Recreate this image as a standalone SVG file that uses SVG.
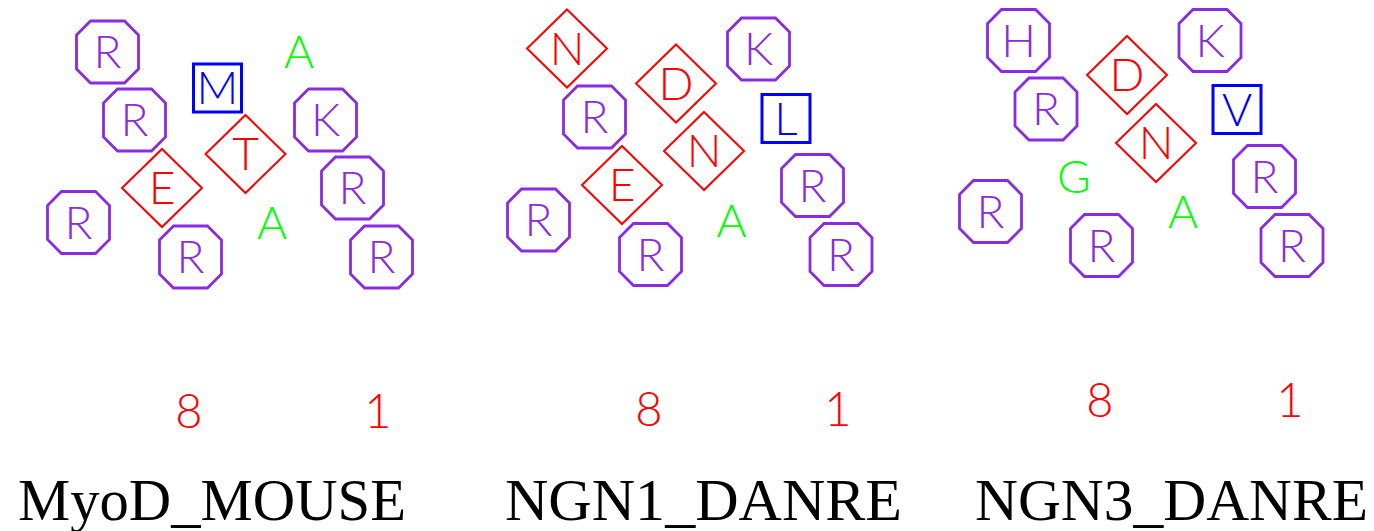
<svg xmlns="http://www.w3.org/2000/svg" xmlns:xlink="http://www.w3.org/1999/xlink" width="1374" height="531" viewBox="0 0 1374 531">
<style>
.oct{fill:none;stroke:#8A2BE2;stroke-width:2.8}
.dia{fill:none;stroke:#FF0000;stroke-width:2}
.sq{fill:none;stroke:#0000FF;stroke-width:3}
.t{font-family:Lato,"DejaVu Sans",sans-serif;font-weight:300;font-size:46px;text-anchor:middle}
.tp{fill:#8A2BE2}
.tr{fill:#FF0000}
.tb{fill:#0000FF}
.tg{fill:#00FF00}
.num{font-family:Lato,"DejaVu Sans",sans-serif;font-weight:300;font-size:47px;fill:#FF0000;text-anchor:middle}
.lab{font-family:"Liberation Serif","Times New Roman",serif;font-size:59px;fill:#000}
</style>
<defs>
<polygon id="oct" class="oct" points="-17,-31 17,-31 31,-17 31,17 17,31 -17,31 -31,17 -31,-17"/>
<polygon id="dia" class="dia" points="0,-39 40,0 0,39 -40,0"/>
<rect id="sq" class="sq" x="-24" y="-24" width="48" height="48"/>
</defs>
<rect width="1374" height="531" fill="#fff"/>
<g id="connectors"/>

<!-- Panel 1 -->
<g id="p1_R1"><use xlink:href="#oct" x="107.5" y="52"/><text class="t tp" x="107.5" y="68">R</text></g>
<g id="p1_R2"><use xlink:href="#oct" x="134.5" y="120"/><text class="t tp" x="134.5" y="136">R</text></g>
<g id="p1_M"><use xlink:href="#sq" x="217.5" y="88"/><text class="t tb" x="217.5" y="104">M</text></g>
<g id="p1_A1"><text class="t tg" x="299" y="68">A</text></g>
<g id="p1_K"><use xlink:href="#oct" x="325.5" y="120"/><text class="t tp" x="325.5" y="136">K</text></g>
<g id="p1_T"><use xlink:href="#dia" x="245.5" y="154"/><text class="t tr" x="245.5" y="170">T</text></g>
<g id="p1_E"><use xlink:href="#dia" x="162" y="188"/><text class="t tr" x="162" y="204">E</text></g>
<g id="p1_R3"><use xlink:href="#oct" x="352.5" y="188"/><text class="t tp" x="352.5" y="204">R</text></g>
<g id="p1_R4"><use xlink:href="#oct" x="78.5" y="222.5"/><text class="t tp" x="78.5" y="238.5">R</text></g>
<g id="p1_A2"><text class="t tg" x="272" y="239">A</text></g>
<g id="p1_R5"><use xlink:href="#oct" x="190.5" y="257"/><text class="t tp" x="190.5" y="273">R</text></g>
<g id="p1_R6"><use xlink:href="#oct" x="381.5" y="257"/><text class="t tp" x="381.5" y="273">R</text></g>
<g id="p1_n8"><text class="num" x="189" y="428">8</text></g>
<g id="p1_n1"><text class="num" x="378" y="428">1</text></g>
<g id="p1_label"><text class="lab" x="18" y="520" textLength="388" lengthAdjust="spacingAndGlyphs">MyoD_MOUSE</text></g>

<!-- Panel 2 -->
<g id="p2_N1"><use xlink:href="#dia" x="567" y="48.5"/><text class="t tr" x="567" y="64.5">N</text></g>
<g id="p2_K"><use xlink:href="#oct" x="758.5" y="49"/><text class="t tp" x="758.5" y="65">K</text></g>
<g id="p2_D"><use xlink:href="#dia" x="676" y="83.5"/><text class="t tr" x="676" y="99.5">D</text></g>
<g id="p2_R1"><use xlink:href="#oct" x="594.5" y="117"/><text class="t tp" x="594.5" y="133">R</text></g>
<g id="p2_L"><use xlink:href="#sq" x="786" y="118.5"/><text class="t tb" x="786" y="134.5">L</text></g>
<g id="p2_N2"><use xlink:href="#dia" x="704" y="151"/><text class="t tr" x="704" y="167">N</text></g>
<g id="p2_E"><use xlink:href="#dia" x="622" y="185"/><text class="t tr" x="622" y="201">E</text></g>
<g id="p2_R2"><use xlink:href="#oct" x="812.5" y="185.5"/><text class="t tp" x="812.5" y="201.5">R</text></g>
<g id="p2_R3"><use xlink:href="#oct" x="538.5" y="220"/><text class="t tp" x="538.5" y="236">R</text></g>
<g id="p2_A"><text class="t tg" x="731.5" y="237">A</text></g>
<g id="p2_R4"><use xlink:href="#oct" x="650.5" y="254.5"/><text class="t tp" x="650.5" y="270.5">R</text></g>
<g id="p2_R5"><use xlink:href="#oct" x="841" y="254.5"/><text class="t tp" x="841" y="270.5">R</text></g>
<g id="p2_n8"><text class="num" x="649" y="426">8</text></g>
<g id="p2_n1"><text class="num" x="838" y="426">1</text></g>
<g id="p2_label"><text class="lab" x="505" y="520" textLength="397" lengthAdjust="spacingAndGlyphs">NGN1_DANRE</text></g>

<!-- Panel 3 -->
<g id="p3_H"><use xlink:href="#oct" x="1018.5" y="40.5"/><text class="t tp" x="1018.5" y="56.5">H</text></g>
<g id="p3_K"><use xlink:href="#oct" x="1210" y="40.5"/><text class="t tp" x="1210" y="56.5">K</text></g>
<g id="p3_D"><use xlink:href="#dia" x="1127" y="75"/><text class="t tr" x="1127" y="91">D</text></g>
<g id="p3_R1"><use xlink:href="#oct" x="1046" y="109"/><text class="t tp" x="1046" y="125">R</text></g>
<g id="p3_V"><use xlink:href="#sq" x="1237" y="109.5"/><text class="t tb" x="1237" y="125.5">V</text></g>
<g id="p3_N"><use xlink:href="#dia" x="1156" y="143"/><text class="t tr" x="1156" y="159">N</text></g>
<g id="p3_G"><text class="t tg" x="1074" y="193">G</text></g>
<g id="p3_R2"><use xlink:href="#oct" x="1264.5" y="176.5"/><text class="t tp" x="1264.5" y="192.5">R</text></g>
<g id="p3_R3"><use xlink:href="#oct" x="990.5" y="211.5"/><text class="t tp" x="990.5" y="227.5">R</text></g>
<g id="p3_A"><text class="t tg" x="1183" y="228">A</text></g>
<g id="p3_R4"><use xlink:href="#oct" x="1101.5" y="245.5"/><text class="t tp" x="1101.5" y="261.5">R</text></g>
<g id="p3_R5"><use xlink:href="#oct" x="1292" y="245.5"/><text class="t tp" x="1292" y="261.5">R</text></g>
<g id="p3_n8"><text class="num" x="1100" y="417">8</text></g>
<g id="p3_n1"><text class="num" x="1290" y="417">1</text></g>
<g id="p3_label"><text class="lab" x="975" y="520" textLength="393" lengthAdjust="spacingAndGlyphs">NGN3_DANRE</text></g>
</svg>
